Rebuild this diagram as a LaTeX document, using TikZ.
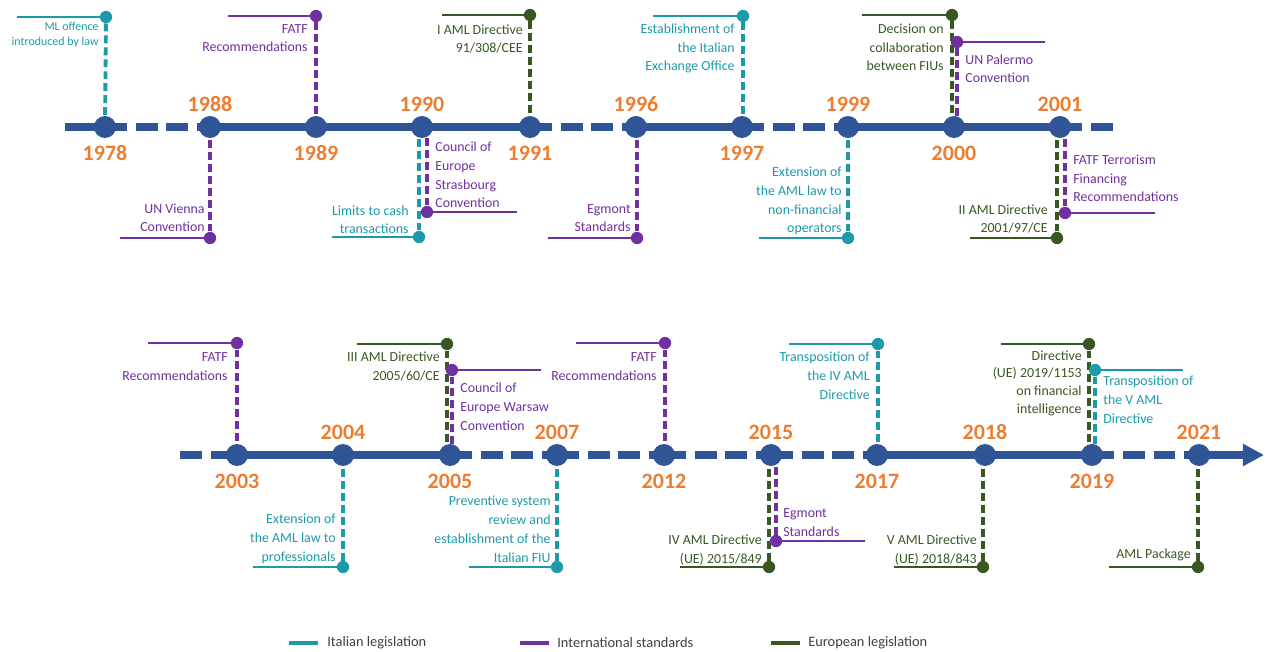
\documentclass[tikz,border=0pt]{standalone}
\usepackage{fontspec}
\setmainfont{Carlito}
\usetikzlibrary{arrows.meta, positioning}
\definecolor{tlblue}{HTML}{2F5597}
\definecolor{yrorange}{HTML}{ED7D31}
\definecolor{itteal}{HTML}{1C9AAA}
\definecolor{intpurple}{HTML}{7030A0}
\definecolor{eugreen}{HTML}{385723}
\definecolor{legendgray}{HTML}{404040}
\tikzset{
  tline/.style={tlblue, line width=4pt},
  tdash/.style={tline, dash pattern=on 12.5pt off 5pt},
  yeardot/.style={circle, fill=tlblue, minimum size=12.5pt, inner sep=0pt},
  year/.style={text=yrorange, font=\fontsize{12.5}{14}\selectfont\bfseries, inner sep=0pt},
  evline/.style={line width=2.2pt, dash pattern=on 4.5pt off 2.3pt},
  evdot/.style={circle, minimum size=7pt, inner sep=0pt},
  evtick/.style={line width=0.6pt},
  evtext/.style={font=\fontsize{7.9}{10.8}\selectfont, inner sep=0pt},
  lefttext/.style={evtext, anchor=base east, align=right},
  righttext/.style={evtext, anchor=base west, align=left},
  legbar/.style={line width=2.8pt},
}
\begin{document}
\begin{tikzpicture}[x=0.02cm, y=-0.02cm]
  \useasboundingbox (0,0) rectangle (1269,652);
  % year positions
  \coordinate (c1978) at (105,127);
  \coordinate (c1988) at (210,127);
  \coordinate (c1989) at (316,127);
  \coordinate (c1990) at (422,127);
  \coordinate (c1991) at (530,127);
  \coordinate (c1996) at (636,127);
  \coordinate (c1997) at (742,127);
  \coordinate (c1999) at (848,127);
  \coordinate (c2000) at (954,127);
  \coordinate (c2001) at (1060,127);
  \coordinate (c2003) at (237,455);
  \coordinate (c2004) at (343,455);
  \coordinate (c2005) at (450,455);
  \coordinate (c2007) at (557,455);
  \coordinate (c2012) at (664,455);
  \coordinate (c2015) at (771,455);
  \coordinate (c2017) at (877,455);
  \coordinate (c2018) at (985,455);
  \coordinate (c2019) at (1092,455);
  \coordinate (c2021) at (1199,455);
  % top line
  \coordinate (tstart) at (65,127);
  \coordinate (tend) at (1114,127);
  \draw[tline] (tstart) -- (c1978);
  \draw[tdash] (c1978) -- (c1988);
  \draw[tline] (c1988) -- (c1991);
  \draw[tdash] (c1991) -- (c1996);
  \draw[tline] (c1996) -- (c1997);
  \draw[tdash] (c1997) -- (c1999);
  \draw[tline] (c1999) -- (c2001);
  \draw[tdash] (c2001) -- (tend);
  % bottom line
  \coordinate (bstart) at (180,455);
  \coordinate (bend) at (1264,455);
  \draw[tdash] (bstart) -- (c2003);
  \draw[tline] (c2003) -- (c2005);
  \draw[tdash] (c2005) -- (c2007);
  \draw[tdash] (c2007) -- (c2012);
  \draw[tdash] (c2012) -- (c2015);
  \draw[tdash] (c2015) -- (c2017);
  \draw[tline] (c2017) -- (c2019);
  \draw[tdash] (c2019) -- (c2021);
  \draw[tline, -{Triangle[length=12pt, width=12pt]}] (c2021) -- (bend);

  % 1978
  \node[evdot, fill=itteal] (e1978) at (106,17) {};
  \draw[evtick, itteal] (e1978.center) -- ++(-89,0);
  \draw[evline, itteal] (e1978) -- (c1978);
  \node[lefttext, text=itteal, font=\fontsize{6.8}{8.6}\selectfont] (t1978) at (99,46) {ML offence\\introduced by law};
  % 1988
  \node[evdot, fill=intpurple] (e1988) at (210,238) {};
  \draw[evtick, intpurple] (e1988.center) -- ++(-90,0);
  \draw[evline, intpurple] (e1988) -- (c1988);
  \node[lefttext, text=intpurple] (t1988) at (205,232) {UN Vienna\\Convention};
  % 1989
  \node[evdot, fill=intpurple] (e1989) at (316,16) {};
  \draw[evtick, intpurple] (e1989.center) -- ++(-88,0);
  \draw[evline, intpurple] (e1989) -- (c1989);
  \node[lefttext, text=intpurple] (t1989) at (308,52) {FATF\\Recommendations};
  % 1990
  \node[evdot, fill=itteal] (e1990a) at (419,237) {};
  \draw[evtick, itteal] (e1990a.center) -- ++(-87,0);
  \draw[evline, itteal] (e1990a) -- (e1990a |- c1990);
  \node[lefttext, text=itteal] (t1990a) at (409,234) {Limits to cash\\transactions};
  \node[evdot, fill=intpurple] (e1990b) at (427,212) {};
  \draw[evtick, intpurple] (e1990b.center) -- ++(90,0);
  \draw[evline, intpurple] (e1990b) -- (e1990b |- c1990);
  \node[righttext, text=intpurple] (t1990b) at (435,208) {Council of\\Europe\\Strasbourg\\Convention};
  % 1991
  \node[evdot, fill=eugreen] (e1991) at (530,15) {};
  \draw[evtick, eugreen] (e1991.center) -- ++(-88,0);
  \draw[evline, eugreen] (e1991) -- (c1991);
  \node[lefttext, text=eugreen] (t1991) at (523,53) {I AML Directive\\91/308/CEE};
  % 1996
  \node[evdot, fill=intpurple] (e1996) at (637,238) {};
  \draw[evtick, intpurple] (e1996.center) -- ++(-89,0);
  \draw[evline, intpurple] (e1996) -- (e1996 |- c1996);
  \node[lefttext, text=intpurple] (t1996) at (631,232) {Egmont\\Standards};
  % 1997
  \node[evdot, fill=itteal] (e1997) at (743,16) {};
  \draw[evtick, itteal] (e1997.center) -- ++(-90,0);
  \draw[evline, itteal] (e1997) -- (e1997 |- c1997);
  \node[lefttext, text=itteal] (t1997) at (735,71) {Establishment of\\the Italian\\Exchange Office};
  % 1999
  \node[evdot, fill=itteal] (e1999) at (848,238) {};
  \draw[evtick, itteal] (e1999.center) -- ++(-89,0);
  \draw[evline, itteal] (e1999) -- (c1999);
  \node[lefttext, text=itteal] (t1999) at (842,233) {Extension of\\the AML law to\\non-financial\\operators};
  % 2000
  \node[evdot, fill=eugreen] (e2000a) at (952,15) {};
  \draw[evtick, eugreen] (e2000a.center) -- ++(-90,0);
  \draw[evline, eugreen] (e2000a) -- (e2000a |- c2000);
  \node[lefttext, text=eugreen] (t2000a) at (944,71) {Decision on\\collaboration\\between FIUs};
  \node[evdot, fill=intpurple] (e2000b) at (957,42) {};
  \draw[evtick, intpurple] (e2000b.center) -- ++(88,0);
  \draw[evline, intpurple] (e2000b) -- (e2000b |- c2000);
  \node[righttext, text=intpurple] (t2000b) at (965,83) {UN Palermo\\Convention};
  % 2001
  \node[evdot, fill=eugreen] (e2001a) at (1057,238) {};
  \draw[evtick, eugreen] (e2001a.center) -- ++(-87,0);
  \draw[evline, eugreen] (e2001a) -- (e2001a |- c2001);
  \node[lefttext, text=eugreen] (t2001a) at (1048,233) {II AML Directive\\2001/97/CE};
  \node[evdot, fill=intpurple] (e2001b) at (1065,213) {};
  \draw[evtick, intpurple] (e2001b.center) -- ++(90,0);
  \draw[evline, intpurple] (e2001b) -- (e2001b |- c2001);
  \node[righttext, text=intpurple] (t2001b) at (1073,202) {FATF Terrorism\\Financing\\Recommendations};

  % 2003
  \node[evdot, fill=intpurple] (e2003) at (237,343) {};
  \draw[evtick, intpurple] (e2003.center) -- ++(-89,0);
  \draw[evline, intpurple] (e2003) -- (c2003);
  \node[lefttext, text=intpurple] (t2003) at (228,380) {FATF\\Recommendations};
  % 2004
  \node[evdot, fill=itteal] (e2004) at (343,567) {};
  \draw[evtick, itteal] (e2004.center) -- ++(-90,0);
  \draw[evline, itteal] (e2004) -- (c2004);
  \node[lefttext, text=itteal] (t2004) at (336,561) {Extension of\\the AML law to\\professionals};
  % 2005
  \node[evdot, fill=eugreen] (e2005a) at (447,344) {};
  \draw[evtick, eugreen] (e2005a.center) -- ++(-90,0);
  \draw[evline, eugreen] (e2005a) -- (e2005a |- c2005);
  \node[lefttext, text=eugreen] (t2005a) at (440,380) {III AML Directive\\2005/60/CE};
  \node[evdot, fill=intpurple] (e2005b) at (452,370) {};
  \draw[evtick, intpurple] (e2005b.center) -- ++(89,0);
  \draw[evline, intpurple] (e2005b) -- (e2005b |- c2005);
  \node[righttext, text=intpurple] (t2005b) at (460,430) {Council of\\Europe Warsaw\\Convention};
  % 2007
  \node[evdot, fill=itteal] (e2007) at (557,567) {};
  \draw[evtick, itteal] (e2007.center) -- ++(-88,0);
  \draw[evline, itteal] (e2007) -- (c2007);
  \node[lefttext, text=itteal] (t2007) at (551,562) {Preventive system\\review and\\establishment of the\\Italian FIU};
  % 2012
  \node[evdot, fill=intpurple] (e2012) at (665,343) {};
  \draw[evtick, intpurple] (e2012.center) -- ++(-89,0);
  \draw[evline, intpurple] (e2012) -- (e2012 |- c2012);
  \node[lefttext, text=intpurple] (t2012) at (657,380) {FATF\\Recommendations};
  % 2015
  \node[evdot, fill=eugreen] (e2015a) at (769,567) {};
  \draw[evtick, eugreen] (e2015a.center) -- ++(-89,0);
  \draw[evline, eugreen] (e2015a) -- (e2015a |- c2015);
  \node[lefttext, text=eugreen] (t2015a) at (762,563) {IV AML Directive\\(UE) 2015/849};
  \node[evdot, fill=intpurple] (e2015b) at (776,541) {};
  \draw[evtick, intpurple] (e2015b.center) -- ++(89,0);
  \draw[evline, intpurple] (e2015b) -- (e2015b |- c2015);
  \node[righttext, text=intpurple] (t2015b) at (783,536) {Egmont\\Standards};
  % 2017
  \node[evdot, fill=itteal] (e2017) at (878,344) {};
  \draw[evtick, itteal] (e2017.center) -- ++(-89,0);
  \draw[evline, itteal] (e2017) -- (e2017 |- c2017);
  \node[lefttext, text=itteal] (t2017) at (870,399) {Transposition of\\the IV AML\\Directive};
  % 2018
  \node[evdot, fill=eugreen] (e2018) at (983,567) {};
  \draw[evtick, eugreen] (e2018.center) -- ++(-89,0);
  \draw[evline, eugreen] (e2018) -- (e2018 |- c2018);
  \node[lefttext, text=eugreen] (t2018) at (977,563) {V AML Directive\\(UE) 2018/843};
  % 2019
  \node[evdot, fill=eugreen] (e2019a) at (1089,344) {};
  \draw[evtick, eugreen] (e2019a.center) -- ++(-88,0);
  \draw[evline, eugreen] (e2019a) -- (e2019a |- c2019);
  \node[lefttext, text=eugreen, font=\fontsize{7.9}{10}\selectfont] (t2019a) at (1082,413) {Directive\\(UE) 2019/1153\\on financial\\intelligence};
  \node[evdot, fill=itteal] (e2019b) at (1095,370) {};
  \draw[evtick, itteal] (e2019b.center) -- ++(88,0);
  \draw[evline, itteal] (e2019b) -- (e2019b |- c2019);
  \node[righttext, text=itteal] (t2019b) at (1103,423) {Transposition of\\the V AML\\Directive};
  % 2021
  \node[evdot, fill=eugreen] (e2021) at (1198,567) {};
  \draw[evtick, eugreen] (e2021.center) -- ++(-89,0);
  \draw[evline, eugreen] (e2021) -- (e2021 |- c2021);
  \node[lefttext, text=eugreen] (t2021) at (1191,558) {AML Package};

  % year circles and labels
  \node[yeardot] (n1978) at (c1978) {};
  \node[year, below=0.14cm of n1978] (y1978) {1978};
  \node[yeardot] (n1988) at (c1988) {};
  \node[year, above=0.07cm of n1988] (y1988) {1988};
  \node[yeardot] (n1989) at (c1989) {};
  \node[year, below=0.14cm of n1989] (y1989) {1989};
  \node[yeardot] (n1990) at (c1990) {};
  \node[year, above=0.07cm of n1990] (y1990) {1990};
  \node[yeardot] (n1991) at (c1991) {};
  \node[year, below=0.14cm of n1991] (y1991) {1991};
  \node[yeardot] (n1996) at (c1996) {};
  \node[year, above=0.07cm of n1996] (y1996) {1996};
  \node[yeardot] (n1997) at (c1997) {};
  \node[year, below=0.14cm of n1997] (y1997) {1997};
  \node[yeardot] (n1999) at (c1999) {};
  \node[year, above=0.07cm of n1999] (y1999) {1999};
  \node[yeardot] (n2000) at (c2000) {};
  \node[year, below=0.14cm of n2000] (y2000) {2000};
  \node[yeardot] (n2001) at (c2001) {};
  \node[year, above=0.07cm of n2001] (y2001) {2001};
  \node[yeardot] (n2003) at (c2003) {};
  \node[year, below=0.14cm of n2003] (y2003) {2003};
  \node[yeardot] (n2004) at (c2004) {};
  \node[year, above=0.07cm of n2004] (y2004) {2004};
  \node[yeardot] (n2005) at (c2005) {};
  \node[year, below=0.14cm of n2005] (y2005) {2005};
  \node[yeardot] (n2007) at (c2007) {};
  \node[year, above=0.07cm of n2007] (y2007) {2007};
  \node[yeardot] (n2012) at (c2012) {};
  \node[year, below=0.14cm of n2012] (y2012) {2012};
  \node[yeardot] (n2015) at (c2015) {};
  \node[year, above=0.07cm of n2015] (y2015) {2015};
  \node[yeardot] (n2017) at (c2017) {};
  \node[year, below=0.14cm of n2017] (y2017) {2017};
  \node[yeardot] (n2018) at (c2018) {};
  \node[year, above=0.07cm of n2018] (y2018) {2018};
  \node[yeardot] (n2019) at (c2019) {};
  \node[year, below=0.14cm of n2019] (y2019) {2019};
  \node[yeardot] (n2021) at (c2021) {};
  \node[year, above=0.07cm of n2021] (y2021) {2021};

  % legend
  \draw[legbar, itteal] (289,643) -- (318,643);
  \node[evtext, text=legendgray, anchor=west, font=\fontsize{8.2}{10}\selectfont] (lit) at (327,643) {Italian legislation};
  \draw[legbar, intpurple] (520,643) -- (549,643);
  \node[evtext, text=legendgray, anchor=west, font=\fontsize{8.2}{10}\selectfont] (lint) at (557,643) {International standards};
  \draw[legbar, eugreen] (771,643) -- (800,643);
  \node[evtext, text=legendgray, anchor=west, font=\fontsize{8.2}{10}\selectfont] (leu) at (808,643) {European legislation};
\end{tikzpicture}
\end{document}
